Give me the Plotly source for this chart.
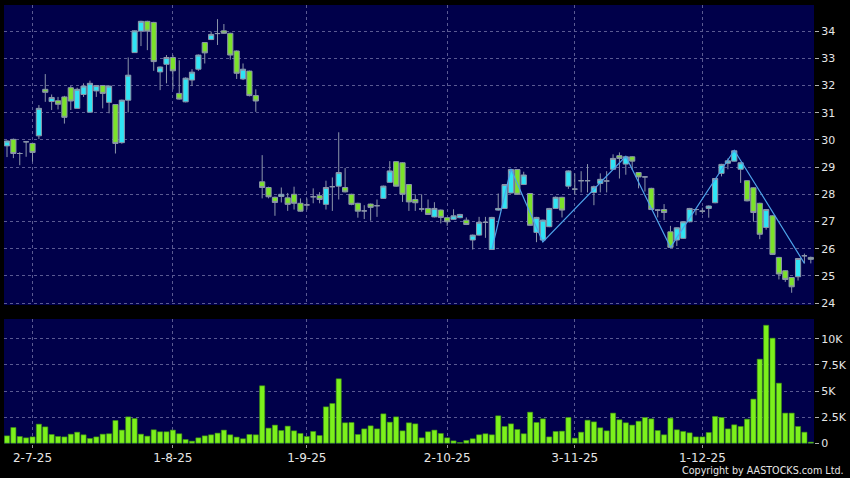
import pandas as pd
import plotly.graph_objects as go
from plotly.subplots import make_subplots

# HK trading days shown on the chart (25 Jun - 24 Dec 2025)
HOLIDAYS = ["2025-07-01", "2025-10-01", "2025-10-07", "2025-10-29"]
dates = [d.strftime("%Y-%m-%d") for d in
         pd.bdate_range("2025-06-25", "2025-12-24", freq="C", holidays=HOLIDAYS)]

opens = [29.78, 30.02, 29.50, 29.93, 29.87, 30.15, 31.86, 31.41, 31.44, 31.58,
         31.92, 31.16, 31.67, 31.02, 31.80, 32.00, 31.38, 31.30, 29.90, 31.46,
         33.21, 34.00, 34.36, 34.32, 32.50, 32.78, 33.03, 31.71, 31.40, 32.20,
         32.60, 33.58, 33.69, 33.91, 34.01, 33.92, 33.27, 32.24, 32.53, 31.63,
         28.46, 28.25, 27.89, 27.92, 27.87, 28.00, 27.67, 27.61, 27.91, 27.95,
         27.63, 28.28, 28.30, 28.25, 28.00, 27.67, 27.39, 27.64, 27.58, 27.85,
         28.44, 29.20, 29.16, 28.36, 27.81, 27.46, 27.48, 27.17, 27.42, 27.14,
         27.08, 27.14, 27.05, 26.32, 26.50, 26.97, 25.97, 27.42, 27.48, 28.05,
         28.91, 28.36, 28.03, 26.60, 26.32, 26.81, 27.48, 27.89, 28.30, 28.19,
         28.50, 28.50, 28.07, 28.40, 28.49, 28.92, 29.42, 29.11, 29.38, 28.80,
         28.64, 28.22, 27.42, 27.44, 26.62, 26.32, 26.38, 26.99, 27.44, 27.38,
         27.48, 27.69, 28.77, 29.14, 29.22, 28.92, 28.50, 28.24, 27.67, 26.78,
         27.21, 25.68, 25.19, 24.94, 24.97, 25.74, 25.68]
highs = [29.98, 30.05, 29.55, 29.95, 29.90, 31.28, 32.42, 31.67, 31.58, 31.62,
         31.98, 31.92, 32.08, 32.18, 32.02, 32.02, 32.00, 31.32, 31.48, 33.03,
         34.03, 34.38, 34.38, 34.34, 32.70, 33.12, 33.12, 32.93, 32.30, 32.60,
         33.14, 33.60, 33.98, 34.44, 34.26, 33.94, 33.29, 32.81, 32.55, 31.86,
         29.44, 28.28, 27.92, 28.25, 28.05, 28.28, 27.85, 27.85, 28.22, 28.08,
         28.50, 28.62, 30.28, 28.97, 28.02, 27.69, 27.60, 27.66, 27.81, 28.32,
         29.22, 29.22, 29.18, 28.38, 28.00, 28.00, 27.81, 27.71, 27.44, 27.16,
         27.45, 27.28, 27.15, 26.52, 27.17, 27.17, 27.17, 28.03, 28.38, 28.93,
         28.93, 28.83, 28.05, 27.17, 27.07, 27.50, 27.92, 27.91, 28.88, 28.77,
         28.85, 29.11, 28.32, 28.77, 28.85, 29.47, 29.54, 29.40, 29.40, 28.82,
         28.66, 28.24, 27.45, 27.64, 26.84, 26.79, 27.01, 27.50, 27.46, 27.51,
         27.59, 28.60, 29.12, 29.32, 29.62, 29.18, 28.52, 28.26, 27.69, 27.46,
         27.23, 25.70, 25.21, 24.96, 25.66, 25.82, 25.71]
lows = [29.37, 29.33, 29.07, 29.38, 29.20, 30.03, 31.40, 31.10, 31.12, 30.60,
        31.10, 31.16, 31.58, 31.02, 31.58, 31.16, 30.98, 29.50, 29.86, 31.01,
        33.21, 33.45, 33.30, 32.54, 31.83, 32.08, 31.86, 31.48, 31.38, 31.98,
        32.54, 32.81, 33.67, 33.49, 33.90, 32.95, 32.24, 32.20, 31.60, 31.03,
        27.85, 27.85, 27.21, 27.70, 27.39, 27.44, 27.36, 27.44, 27.67, 27.67,
        27.44, 27.39, 27.81, 28.07, 27.60, 27.14, 27.09, 27.03, 27.17, 27.83,
        28.42, 28.28, 27.72, 27.39, 27.39, 27.36, 27.24, 27.15, 26.93, 26.84,
        27.06, 27.12, 26.87, 25.97, 26.48, 26.40, 25.97, 27.40, 27.46, 28.03,
        27.98, 28.34, 26.84, 26.24, 26.25, 26.79, 27.46, 27.15, 28.20, 28.00,
        28.07, 28.07, 27.60, 28.07, 28.07, 28.90, 28.58, 28.72, 28.90, 28.22,
        28.10, 27.42, 27.15, 27.05, 26.05, 26.10, 26.36, 26.97, 27.23, 27.29,
        27.14, 27.67, 28.66, 28.92, 29.20, 28.42, 27.74, 26.99, 26.35, 26.70,
        25.77, 24.87, 24.78, 24.38, 24.83, 25.46, 25.46]
closes = [29.96, 29.50, 29.50, 29.93, 29.54, 31.16, 31.75, 31.56, 31.31, 30.83,
          31.43, 31.86, 31.98, 32.08, 32.00, 31.71, 31.98, 29.87, 31.46, 32.38,
          34.01, 34.36, 34.00, 32.88, 32.68, 33.03, 32.54, 31.50, 32.27, 32.49,
          33.12, 33.20, 33.88, 33.91, 33.92, 33.12, 32.45, 32.60, 31.63, 31.43,
          28.25, 27.91, 27.70, 28.00, 27.63, 27.67, 27.38, 27.61, 27.91, 27.81,
          28.25, 28.28, 28.80, 28.09, 27.63, 27.38, 27.39, 27.52, 27.58, 28.30,
          28.86, 28.30, 28.00, 27.72, 27.69, 27.46, 27.26, 27.48, 27.15, 26.99,
          27.21, 27.26, 26.89, 26.50, 26.97, 26.97, 27.15, 27.48, 28.36, 28.91,
          28.00, 28.71, 26.86, 27.15, 27.05, 27.48, 27.89, 27.42, 28.86, 28.19,
          28.50, 28.50, 28.28, 28.55, 28.49, 29.32, 29.32, 29.38, 29.22, 28.64,
          28.64, 27.44, 27.42, 27.33, 26.05, 26.77, 26.99, 27.48, 27.44, 27.38,
          27.57, 28.58, 29.10, 29.23, 29.60, 29.16, 27.76, 27.33, 26.53, 27.44,
          25.79, 25.07, 24.87, 24.60, 25.64, 25.74, 25.61]
volumes = [700, 1500, 640, 510, 600, 1820, 1560, 830, 640, 600,
           860, 1050, 800, 450, 600, 860, 900, 2170, 1250, 2520,
           2360, 860, 670, 1280, 1090, 1090, 1250, 900, 350, 190,
           510, 700, 800, 960, 1250, 800, 580, 420, 830, 800,
           5500, 1440, 1730, 1210, 1630, 1180, 930, 640, 1120, 730,
           3480, 3800, 6170, 1950, 1980, 830, 1370, 1660, 1370, 2810,
           2010, 2520, 1180, 1950, 1850, 510, 1090, 1250, 930, 510,
           220, 60, 260, 420, 800, 900, 800, 2620, 1600, 1850,
           1310, 900, 2970, 1980, 2330, 600, 1120, 1150, 2460, 480,
           1050, 2200, 2040, 1470, 1180, 2880, 2240, 1950, 1730, 2100,
           2460, 2330, 1210, 800, 2400, 1280, 1120, 990, 600, 600,
           1020, 2560, 2460, 1370, 1760, 1600, 2300, 4220, 8050, 11300,
           10060, 5750, 2880, 2880, 1600, 1050, 100]

# swing line drawn over the second half of the chart
zz_dates = ["2025-10-14", "2025-10-17", "2025-10-24", "2025-11-13",
            "2025-11-24", "2025-12-08", "2025-12-23"]
zz_values = [25.97, 28.93, 26.25, 29.40, 26.05, 29.62, 25.46]

tick_dates = ["2025-07-02", "2025-08-01", "2025-09-01", "2025-10-02", "2025-11-03", "2025-12-01"]
tick_text = ["2-7-25", "1-8-25", "1-9-25", "2-10-25", "3-11-25", "1-12-25"]
price_ticks = list(range(24, 35))
vol_ticks = [0, 2500, 5000, 7500, 10000]
vol_text = ["0", "2.5K", "5K", "7.5K", "10K"]

NAVY = "#00004a"
GRID = "#5a5a92"
TXT = "#e6e6e6"
FONT = "DejaVu Sans"

fig = make_subplots(rows=2, cols=1, shared_xaxes=True)
fig.add_trace(go.Candlestick(
    x=dates, open=opens, high=highs, low=lows, close=closes,
    increasing={"fillcolor": "#2fe4f5", "line": {"color": "#8c96aa", "width": 1}},
    decreasing={"fillcolor": "#7be22a", "line": {"color": "#8c96aa", "width": 1}},
    whiskerwidth=0, showlegend=False, hoverinfo="skip"), row=1, col=1)
fig.add_trace(go.Scatter(x=zz_dates, y=zz_values, mode="lines",
                         line={"color": "#4da3ea", "width": 1.2},
                         showlegend=False, hoverinfo="skip"), row=1, col=1)
fig.add_trace(go.Bar(x=dates, y=volumes,
                     marker={"color": "#7cf01c", "line": {"color": "#3e9412", "width": 0.6}},
                     showlegend=False, hoverinfo="skip"), row=2, col=1)

xcommon = dict(type="category", range=[-0.47, 126.5], tickvals=tick_dates,
               showgrid=True, gridcolor=GRID, griddash="3px,3px", gridwidth=1,
               zeroline=False, showline=False)
fig.update_xaxes(**xcommon)
fig.update_xaxes(showticklabels=False, ticks="", rangeslider_visible=False, row=1, col=1)
fig.update_xaxes(ticktext=tick_text, ticks="outside", ticklen=3, tickcolor="#9a9a9a",
                 tickfont={"family": FONT, "size": 12, "color": TXT}, row=2, col=1)

ycommon = dict(side="right", showgrid=True, gridcolor=GRID, griddash="3px,3px", gridwidth=1,
               zeroline=False, showline=False, ticks="outside", ticklen=4,
               tickcolor="#b0b0b0", tickfont={"family": FONT, "size": 11, "color": TXT})
fig.update_yaxes(**ycommon)
fig.update_yaxes(range=[23.93, 34.96], tickvals=price_ticks, domain=[0.3166, 1.0], row=1, col=1)
fig.update_yaxes(range=[-80, 11900], tickvals=vol_ticks, ticktext=vol_text,
                 domain=[0.0, 0.2847], row=2, col=1)

fig.add_annotation(text="Copyright by AASTOCKS.com Ltd.", xref="paper", yref="paper",
                   x=1.0395, y=-0.0615, xanchor="right", yanchor="middle", showarrow=False,
                   font={"family": FONT, "size": 9.6, "color": TXT})

fig.update_layout(width=850, height=478, margin={"l": 4, "r": 36, "t": 5, "b": 34},
                  paper_bgcolor="#000000", plot_bgcolor=NAVY, bargap=0.2,
                  boxgap=0.1, boxgroupgap=0.1,
                  font={"family": FONT, "color": TXT}, showlegend=False)

# the page's default body margin would push the 850x478 figure off the window
fig.write_html("out.html", config={"displayModeBar": False},
               post_script="document.body.style.margin='0';document.body.style.overflow='hidden';")
